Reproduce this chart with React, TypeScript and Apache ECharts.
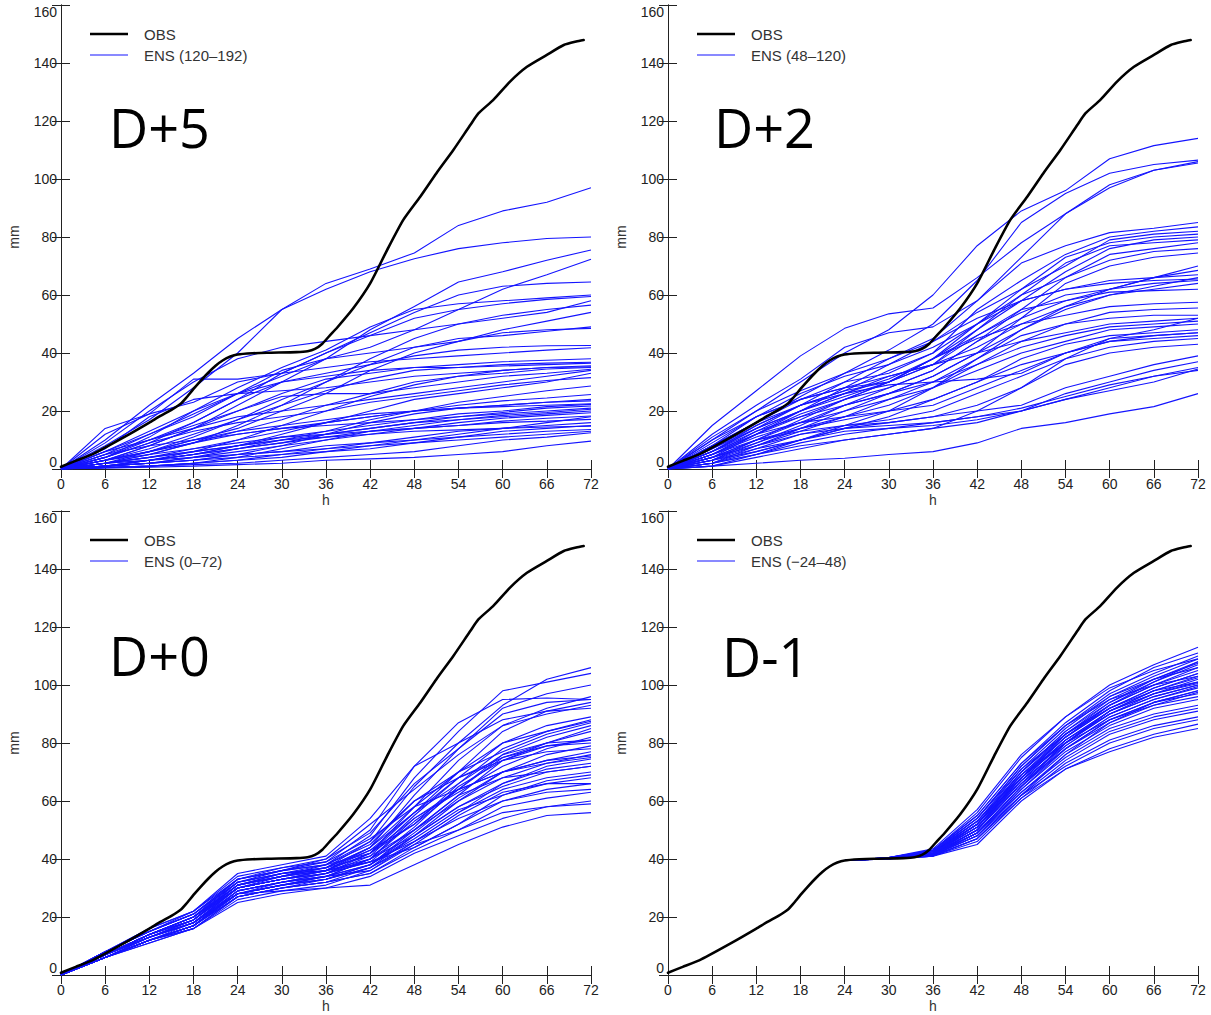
import React, { useEffect, useRef } from "react";
import * as echarts from "echarts";

// ---------- DATA ----------
const HOURS = [0, 6, 12, 18, 24, 30, 36, 42, 48, 54, 60, 66, 72];
const HOURS_DM1 = [24, 30, 36, 42, 48, 54, 60, 66, 72];
const X_TICKS = [0, 6, 12, 18, 24, 30, 36, 42, 48, 54, 60, 66, 72];
const Y_TICKS = [0, 20, 40, 60, 80, 100, 120, 140, 160];

const OBS_H = [0, 2, 4.5, 9, 12, 13.5, 15, 16.3, 17, 18, 19, 20, 21, 22, 23, 24, 26, 28, 32, 33.5, 34.5, 35.5, 36.5, 37.5, 39.7, 42, 44.3, 46.5, 48.8, 51, 53.3, 55.6, 56.7, 58.7, 61, 63.3, 66, 68.3, 70, 71];
const OBS_V = [0.8, 2.8, 5.4, 11.6, 16, 18.3, 20.4, 22.6, 24.5, 27.6, 30.5, 33.2, 35.6, 37.5, 38.8, 39.5, 39.9, 40.1, 40.3, 40.6, 41.4, 43.2, 46, 48.7, 55.4, 64, 75.5, 85.9, 93.9, 102, 110, 118.6, 122.6, 127.2, 133.6, 138.7, 142.8, 146.2, 147.4, 147.9];

const PANEL_TITLES = ["D+5", "D+2", "D+0", "D-1"];
const ENS_LABELS = ["ENS (120–192)", "ENS (48–120)", "ENS (0–72)", "ENS (−24–48)"];

const ENS_D5 = [
  [0, 10, 22, 33, 45, 55, 64, 69, 74.5, 84, 89, 92, 97],
  [0, 8, 17, 28, 40, 55, 62, 68, 72.5, 76, 78, 79.5, 80],
  [0, 3, 8, 14, 22, 30, 38, 48, 56, 64.5, 68, 72, 75.5],
  [0, 5, 12, 18, 26, 32, 38, 42, 48, 55, 62, 67, 72.3],
  [0, 4, 10, 16, 24, 33, 40, 47, 54, 60, 63, 64, 64.5],
  [0, 6, 13, 20, 28, 35, 41, 49, 55, 57, 58, 59, 60],
  [0, 14, 19, 23, 30, 33, 40, 46, 52, 55, 57, 58.5, 59.5],
  [0, 2, 5, 9, 15, 22, 30, 38, 45, 50, 53, 55, 56.5],
  [0, 6, 12, 19, 26, 34, 38, 40, 42, 44, 48, 51, 54],
  [0, 3, 7, 12, 17, 24, 30, 36, 42, 45, 46, 47.5, 49],
  [0, 4, 9, 16, 24, 30, 33, 36, 39, 41, 42, 42.5, 42.6],
  [0, 12, 19, 31, 31, 33, 35, 37, 38, 39, 40, 41, 41.8],
  [0, 5, 10, 15, 20, 26, 31, 33, 35, 36, 37, 37.5, 38],
  [0, 2, 6, 11, 17, 22, 27, 31, 34, 35, 36, 36.5, 36.8],
  [0, 7, 18, 24, 26, 27, 28, 30, 32, 33, 34, 35, 35.6],
  [0, 1, 3, 6, 10, 15, 20, 25, 29, 32, 33, 34.5, 35],
  [0, 3, 8, 14, 20, 25, 26, 26, 28, 30, 32, 33, 34.4],
  [0, 4, 9, 13, 16, 18, 20, 23, 25, 27, 29, 30.5, 31.5],
  [0, 1, 2, 4, 7, 10, 13, 17, 20, 23, 25, 27, 28.6],
  [0, 2, 4, 7, 10, 13, 16, 18, 20, 22, 23.5, 24.5, 25.7],
  [0, 3, 6, 10, 13, 15, 17, 19, 20, 21, 22, 23, 24],
  [0, 1, 3, 5, 8, 11, 13, 15, 17, 19, 20, 21.5, 22.3],
  [0, 5, 8, 10, 12, 14, 15, 16, 17, 18, 19.5, 21, 21.7],
  [0, 0.5, 1, 2, 4, 7, 10, 13, 15, 17, 18.5, 19.5, 20.6],
  [0, 2, 3, 5, 7, 9, 11, 13, 14, 16, 17.5, 18.5, 19.4],
  [0, 1, 2, 4, 6, 8, 10, 12, 14, 15, 16.5, 17.5, 18.3],
  [0, 3, 5, 7, 9, 11, 12, 13, 14, 15, 16, 16.5, 17.1],
  [0, 0.5, 1, 2, 3, 5, 7, 9, 11, 13, 14, 15, 16],
  [0, 2, 4, 6, 8, 10, 11, 12, 13, 13.5, 14, 14.5, 14.8],
  [0, 1, 2, 3, 5, 6, 8, 9, 10, 11, 12, 13, 13.6],
  [0, 0.5, 1, 1.5, 2, 3, 4, 5, 6, 8, 10, 11, 12.5],
  [0, 0.3, 0.6, 1, 1.5, 2, 3, 3.5, 4, 5, 6, 8, 9.6],
  [0, 1, 3, 5, 8, 12, 16, 20, 24, 26, 28, 30, 33],
  [0, 4, 11, 20, 26, 30, 32, 34, 35, 35, 35.5, 36, 36.5],
  [0, 2, 5, 9, 13, 17, 22, 26, 30, 32, 34, 35, 35.2],
  [0, 6, 10, 14, 18, 20, 22, 24, 26, 28, 30, 32, 34],
  [0, 1, 2, 3, 5, 8, 12, 16, 19, 21, 22, 23, 23.5],
  [0, 3, 6, 9, 12, 14, 16, 18, 20, 21, 21.5, 22, 22.5],
  [0, 1, 3, 5, 7, 9, 12, 14, 16, 18, 19, 20, 21],
  [0, 2, 4, 6, 8, 10, 12, 14, 16, 17, 18, 19, 20],
  [0, 0.5, 1, 2, 3, 4, 6, 8, 10, 12, 14, 16, 18],
  [0, 1, 2, 3, 4, 5, 6, 7, 9, 11, 13, 14, 15],
  [0, 2, 3, 4, 5, 6, 7, 8, 9, 10, 11, 12, 13],
  [0, 9, 20, 30, 38, 42, 44, 46, 48, 50, 52, 54, 58],
  [0, 3, 6, 10, 14, 20, 26, 34, 40, 44, 47, 48, 48.5],
];

const ENS_D2 = [
  [0, 15, 27, 39, 48.5, 53.5, 55.5, 66, 78, 88, 97, 103, 106],
  [0, 10, 20, 30, 40, 48, 60, 77, 89, 96, 107, 111.5, 114],
  [0, 8, 16, 25, 33, 41, 50, 65, 85, 95, 102, 105, 106.5],
  [0, 6, 14, 22, 30, 38, 45, 58, 73, 88, 98, 103, 105.5],
  [0, 12, 22, 31, 42, 47, 49, 58, 71, 77, 81.5, 83, 85],
  [0, 8, 18, 24, 30, 33, 40, 55, 65, 74, 80, 82, 83.5],
  [0, 5, 12, 20, 28, 36, 44, 54, 62, 70, 79, 81, 82],
  [0, 6, 14, 20, 26, 31, 38, 50, 62, 73, 78, 80, 81],
  [0, 4, 12, 18, 24, 30, 38, 48, 58, 68, 76, 79, 80],
  [0, 7, 15, 22, 27, 30, 36, 48, 60, 71, 77, 78, 79],
  [0, 10, 18, 26, 32, 36, 42, 50, 60, 66, 74, 76, 78],
  [0, 3, 10, 16, 22, 28, 34, 44, 55, 66, 72, 75, 76],
  [0, 5, 13, 20, 26, 32, 36, 40, 52, 64, 70, 73, 74.5],
  [0, 8, 16, 24, 28, 30, 38, 46, 55, 58, 62, 66, 70],
  [0, 4, 10, 17, 24, 30, 36, 42, 50, 56, 62, 66, 68.5],
  [0, 6, 15, 22, 27, 34, 40, 50, 58, 62, 65, 66, 67],
  [0, 2, 8, 14, 20, 26, 32, 40, 48, 55, 60, 63, 66],
  [0, 9, 18, 24, 28, 32, 36, 46, 54, 60, 62, 64, 65],
  [0, 3, 9, 15, 22, 26, 30, 38, 48, 56, 60, 62, 64],
  [0, 5, 12, 19, 24, 28, 34, 44, 52, 58, 61, 61.5, 62],
  [0, 7, 14, 20, 25, 30, 38, 45, 50, 53, 56, 57, 57.5],
  [0, 4, 10, 14, 18, 22, 28, 36, 44, 50, 54, 55, 55.5],
  [0, 2, 6, 10, 15, 20, 28, 38, 46, 50, 52, 53, 53],
  [0, 6, 13, 18, 22, 26, 32, 40, 44, 47, 50, 51, 52],
  [0, 3, 8, 13, 18, 24, 30, 36, 42, 46, 49, 50, 51],
  [0, 5, 11, 16, 20, 24, 28, 34, 40, 44, 48, 49, 50],
  [0, 1, 5, 10, 14, 18, 24, 30, 38, 43, 46, 47, 48],
  [0, 4, 9, 14, 17, 20, 24, 30, 36, 40, 45, 46, 47],
  [0, 6, 12, 16, 18, 20, 22, 28, 34, 40, 44, 45, 46],
  [0, 2, 7, 12, 15, 17, 20, 26, 32, 38, 42, 44, 45],
  [0, 3, 6, 10, 14, 16, 18, 22, 28, 36, 40, 42, 43],
  [0, 5, 10, 13, 15, 16, 18, 20, 22, 28, 32, 36, 39],
  [0, 2, 5, 9, 12, 14, 16, 18, 20, 26, 30, 34, 37],
  [0, 1, 4, 7, 10, 12, 14, 16, 20, 24, 28, 32, 35],
  [0, 4, 8, 12, 14, 15, 16, 18, 21, 25, 29, 32, 34],
  [0, 1, 2, 3, 3.7, 5, 6, 9, 14, 16, 19, 21.5, 26],
  [0, 3, 7, 10, 13, 14, 15, 17, 20, 24, 27, 30, 34.5],
  [0, 8, 16, 22, 26, 29, 30, 31, 33, 40, 44, 46, 47],
  [0, 11, 20, 27, 33, 38, 44, 52, 58, 62, 64, 65, 65.5],
  [0, 2, 5, 8, 10, 12, 14, 20, 28, 38, 45, 48, 52],
];

const ENS_D0 = [
  [0, 8, 15, 21, 33, 36, 38, 48, 68, 84, 98, 101, 104],
  [0, 7, 14, 20, 32, 35, 37, 46, 65, 80, 93, 102, 106],
  [0, 7, 13, 19, 31, 34, 36, 44, 62, 78, 92, 97, 100],
  [0, 8, 16, 22, 34, 37, 39, 50, 72, 87, 95, 95.5, 95],
  [0, 6, 12, 18, 30, 33, 35, 42, 58, 74, 86, 92, 96],
  [0, 7, 14, 20, 31, 34, 38, 45, 60, 70, 84, 91, 94],
  [0, 8, 15, 21, 32, 36, 40, 52, 64, 76, 86, 90, 93],
  [0, 6, 13, 18, 29, 32, 35, 41, 55, 68, 80, 86, 89],
  [0, 7, 14, 19, 30, 33, 36, 43, 56, 66, 78, 84, 88],
  [0, 7, 13, 19, 31, 35, 37, 44, 58, 70, 77, 83, 87],
  [0, 6, 12, 17, 28, 31, 34, 40, 53, 64, 76, 82, 86],
  [0, 8, 15, 22, 33, 36, 38, 46, 60, 68, 75, 80, 85],
  [0, 6, 12, 17, 29, 32, 35, 39, 51, 65, 74, 80, 84],
  [0, 7, 13, 18, 30, 33, 36, 42, 54, 63, 72, 78, 82],
  [0, 7, 14, 20, 31, 34, 37, 43, 52, 66, 76, 80, 81],
  [0, 6, 12, 17, 27, 30, 33, 38, 50, 62, 74, 79, 80],
  [0, 6, 13, 19, 30, 33, 35, 40, 54, 64, 70, 76, 79],
  [0, 7, 14, 19, 32, 35, 36, 42, 56, 68, 74, 77, 78],
  [0, 6, 11, 16, 27, 30, 32, 37, 48, 60, 70, 74, 77],
  [0, 7, 13, 18, 29, 32, 34, 40, 50, 62, 68, 73, 76],
  [0, 8, 15, 21, 33, 36, 39, 47, 58, 64, 70, 73, 75],
  [0, 6, 12, 17, 28, 31, 33, 38, 48, 58, 66, 71, 73],
  [0, 7, 14, 20, 30, 34, 37, 41, 50, 60, 68, 70, 72],
  [0, 6, 12, 16, 26, 29, 31, 36, 46, 56, 64, 68, 70],
  [0, 7, 13, 18, 28, 31, 34, 38, 47, 57, 62, 67, 69],
  [0, 6, 12, 17, 29, 32, 34, 36, 45, 55, 63, 66, 68],
  [0, 7, 14, 19, 30, 33, 35, 39, 46, 54, 60, 64, 66],
  [0, 6, 12, 16, 27, 30, 32, 35, 44, 52, 60, 63, 64],
  [0, 7, 13, 18, 28, 31, 33, 37, 45, 50, 58, 61, 63],
  [0, 6, 11, 16, 25, 28, 30, 34, 42, 48, 54, 58, 60],
  [0, 7, 13, 18, 28, 29, 30, 31, 38, 45, 51, 55, 56],
  [0, 6, 12, 17, 27, 30, 32, 35, 43, 50, 56, 58, 59],
  [0, 7, 14, 20, 31, 34, 36, 39, 44, 52, 62, 66, 66],
  [0, 8, 16, 22, 35, 38, 41, 54, 72, 80, 88, 91, 92],
  [0, 7, 14, 20, 33, 37, 40, 49, 66, 78, 90, 94, 95],
  [0, 6, 12, 17, 28, 32, 34, 38, 49, 61, 70, 74, 75.5],
  [0, 7, 14, 19, 31, 35, 38, 42, 52, 64, 75, 79, 81],
  [0, 8, 15, 21, 32, 35, 37, 44, 56, 70, 80, 84, 87.5],
  [0, 7, 13, 18, 30, 33, 36, 40, 48, 58, 65, 70, 72],
  [0, 6, 12, 17, 28, 31, 33, 37, 46, 56, 66, 72, 74.5],
];

const ENS_DM1 = [
  [39.5, 40.5, 43, 56, 75, 89, 100, 107, 113],
  [39.5, 40.5, 43, 55, 73, 87, 98, 106, 111],
  [39.5, 40.5, 42.5, 54, 72, 86, 97, 104, 110],
  [39.5, 40.3, 42.5, 53, 71, 85, 96, 103, 109],
  [39.5, 40.4, 42, 53, 70, 84, 95, 102, 108],
  [39.5, 40.2, 42, 52, 70, 84, 94, 101, 107],
  [39.5, 40.5, 43, 54, 71, 83, 93, 100, 106],
  [39.5, 40.3, 42, 51, 69, 83, 93, 100, 105],
  [39.5, 40.2, 41.5, 50, 68, 82, 92, 99, 104],
  [39.5, 40.4, 42.5, 52, 68, 81, 91, 98, 103],
  [39.5, 40.2, 42, 51, 67, 81, 91, 97, 102],
  [39.5, 40.3, 42, 52, 68, 80, 90, 97, 101],
  [39.5, 40.1, 41.5, 50, 66, 80, 90, 96, 100],
  [39.5, 40.3, 42, 51, 67, 79, 89, 95, 99.5],
  [39.5, 40.2, 41.5, 49, 65, 79, 89, 95, 99],
  [39.5, 40.4, 42.5, 53, 69, 80, 88, 94, 98],
  [39.5, 40.1, 41.5, 49, 65, 78, 88, 94, 97],
  [39.5, 40.3, 42, 50, 66, 78, 87, 93, 96],
  [39.5, 40.2, 41.5, 48, 64, 77, 86, 92, 95],
  [39.5, 40.1, 41.2, 48, 63, 76, 85, 90, 93],
  [39.5, 40.2, 41.5, 49, 63, 75, 84, 89, 92],
  [39.5, 40.1, 41, 47, 62, 74, 83, 88, 91],
  [39.5, 40, 41, 46, 61, 73, 81, 86, 89],
  [39.5, 40.2, 41.5, 48, 62, 72, 80, 85, 88],
  [39.5, 40, 41, 45, 60, 71, 78, 83, 86.5],
  [39.5, 40.1, 41, 47, 61, 71, 77, 82, 85],
  [39.5, 40.3, 42, 52, 69, 82, 92, 99, 104],
  [39.5, 40.5, 43.5, 57, 76, 89, 99, 105, 109],
  [39.5, 40.2, 42, 51, 68, 83, 94, 102, 107.5],
  [39.5, 40.4, 42.5, 54, 72, 86, 96, 102, 106],
  [39.5, 40.1, 41.5, 50, 66, 80, 91, 98, 102.5],
  [39.5, 40.3, 42, 52, 70, 83, 92, 98, 101],
  [39.5, 40.2, 41.8, 50, 67, 81, 90, 96, 100],
  [39.5, 40.4, 43, 55, 73, 86, 95, 100, 103],
  [39.5, 40.2, 41.5, 49, 64, 78, 88, 93, 97.5],
  [39.5, 40.3, 42, 51, 68, 82, 93, 101, 108],
  [39.5, 40.1, 41.2, 47, 62, 76, 87, 94, 98],
  [39.5, 40.2, 41.5, 49, 65, 80, 91, 97, 100.5],
];

const PANEL_ENS = [ENS_D5, ENS_D2, ENS_D0, ENS_DM1];
const PANEL_HOURS = [HOURS, HOURS, HOURS, HOURS_DM1];

// ---------- LAYOUT ----------
const GRIDS = [
  { left: 61, top: 5 },
  { left: 668, top: 5 },
  { left: 61, top: 511 },
  { left: 668, top: 511 },
];
const GW = 530;
const GH = 464;
const TITLE_POS = [
  { dx: 48, dy: 122 },
  { dx: 46, dy: 122 },
  { dx: 48, dy: 144 },
  { dx: 54, dy: 145 },
];

const FONT = "'Liberation Sans', Arial, sans-serif";
const BLUE = "#1414ff";
const AXIS_COLOR = "#222";

export default function App() {
  const ref = useRef<HTMLDivElement>(null);

  useEffect(() => {
    if (!ref.current) return;
    const chart = echarts.init(ref.current, undefined, { renderer: "svg" });

    const grid = GRIDS.map((g) => ({
      left: g.left,
      top: g.top,
      width: GW,
      height: GH,
      show: false,
      containLabel: false,
    }));

    const xAxis: any[] = [];
    const yAxis: any[] = [];
    GRIDS.forEach((_, p) => {
      xAxis.push({
        type: "value",
        gridIndex: p,
        position: "bottom",
        min: X_TICKS[0],
        max: X_TICKS[X_TICKS.length - 1],
        interval: 6,
        name: "h",
        nameLocation: "middle",
        nameGap: 24,
        nameTextStyle: { fontFamily: FONT, fontSize: 14, color: "#333" },
        axisLine: { show: true, lineStyle: { color: AXIS_COLOR, width: 1 } },
        axisTick: { show: true, inside: true, length: 9, lineStyle: { color: AXIS_COLOR } },
        axisLabel: { show: true, fontFamily: FONT, fontSize: 14, color: "#222", margin: 8 },
        splitLine: { show: false },
      });
      xAxis.push({
        type: "value",
        gridIndex: p,
        position: "top",
        min: X_TICKS[0],
        max: X_TICKS[X_TICKS.length - 1],
        interval: 6,
        axisLine: { show: true, lineStyle: { color: AXIS_COLOR, width: 1 } },
        axisTick: { show: true, inside: true, length: 9, lineStyle: { color: AXIS_COLOR } },
        axisLabel: { show: false },
        splitLine: { show: false },
      });
      yAxis.push({
        type: "value",
        gridIndex: p,
        position: "left",
        min: Y_TICKS[0],
        max: Y_TICKS[Y_TICKS.length - 1],
        interval: 20,
        name: "mm",
        nameLocation: "middle",
        nameGap: 40,
        nameRotate: 90,
        nameTextStyle: { fontFamily: FONT, fontSize: 14, color: "#333" },
        axisLine: { show: true, lineStyle: { color: AXIS_COLOR, width: 1 } },
        axisTick: { show: true, inside: true, length: 9, lineStyle: { color: AXIS_COLOR } },
        axisLabel: {
          show: true,
          fontFamily: FONT,
          fontSize: 14,
          color: "#222",
          margin: 4,
          verticalAlignMinLabel: "bottom",
          verticalAlignMaxLabel: "top",
        },
        splitLine: { show: false },
      });
      yAxis.push({
        type: "value",
        gridIndex: p,
        position: "right",
        min: Y_TICKS[0],
        max: Y_TICKS[Y_TICKS.length - 1],
        interval: 20,
        axisLine: { show: true, lineStyle: { color: AXIS_COLOR, width: 1 } },
        axisTick: { show: true, inside: true, length: 9, lineStyle: { color: AXIS_COLOR } },
        axisLabel: { show: false },
        splitLine: { show: false },
      });
    });

    const series: any[] = [];
    PANEL_ENS.forEach((members, p) => {
      const hrs = PANEL_HOURS[p];
      members.forEach((m) => {
        series.push({
          type: "line",
          name: ENS_LABELS[p],
          xAxisIndex: p * 2,
          yAxisIndex: p * 2,
          data: hrs.map((h, k) => [h, m[k]]),
          symbol: "none",
          showSymbol: false,
          silent: true,
          lineStyle: { color: BLUE, width: 1.1 },
          z: 2,
        });
      });
      series.push({
        type: "line",
        name: "OBS",
        xAxisIndex: p * 2,
        yAxisIndex: p * 2,
        data: OBS_H.map((h, k) => [h, OBS_V[k]]),
        symbol: "none",
        showSymbol: false,
        smooth: 0.2,
        silent: true,
        lineStyle: { color: "#000", width: 2.6, join: "round", cap: "round" },
        z: 3,
      });
    });

    const graphic: any[] = [];
    GRIDS.forEach((g, p) => {
      graphic.push({
        type: "line",
        shape: { x1: g.left + 29, y1: g.top + 29, x2: g.left + 67, y2: g.top + 29 },
        style: { stroke: "#000", lineWidth: 2.6 },
        z: 10,
      });
      graphic.push({
        type: "line",
        shape: { x1: g.left + 29, y1: g.top + 50, x2: g.left + 67, y2: g.top + 50 },
        style: { stroke: BLUE, lineWidth: 1.1 },
        z: 10,
      });
      graphic.push({
        type: "text",
        x: g.left + 83,
        y: g.top + 29,
        style: {
          text: "OBS",
          font: `15px ${FONT}`,
          fill: "#333",
          verticalAlign: "middle",
          textVerticalAlign: "middle",
        },
        z: 10,
      });
      graphic.push({
        type: "text",
        x: g.left + 83,
        y: g.top + 50,
        style: {
          text: ENS_LABELS[p],
          font: `15px ${FONT}`,
          fill: "#333",
          verticalAlign: "middle",
          textVerticalAlign: "middle",
        },
        z: 10,
      });
      graphic.push({
        type: "text",
        x: g.left + TITLE_POS[p].dx,
        y: g.top + TITLE_POS[p].dy,
        style: {
          text: PANEL_TITLES[p],
          font: `54px 'Open Sans', 'Noto Sans', sans-serif`,
          fill: "#000",
          verticalAlign: "middle",
          textVerticalAlign: "middle",
        },
        z: 10,
      });
    });

    chart.setOption({
      animation: false,
      backgroundColor: "#fff",
      grid,
      xAxis,
      yAxis,
      series,
      graphic,
    });

    return () => {
      chart.dispose();
    };
  }, []);

  return (
    <div
      ref={ref}
      style={{ position: "absolute", left: 0, top: 0, width: 1211, height: 1015, background: "#fff" }}
    />
  );
}
